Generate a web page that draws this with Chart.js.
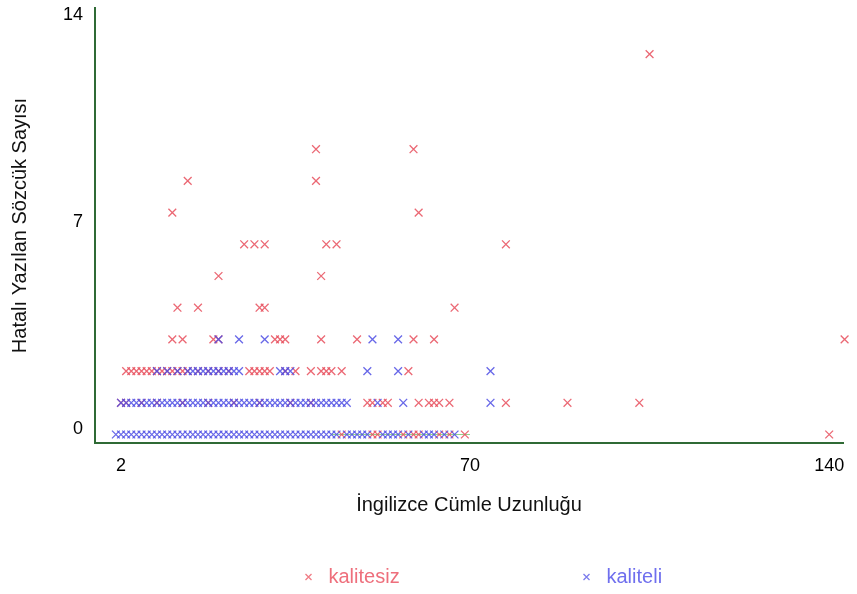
<!DOCTYPE html>
<html>
<head>
<meta charset="utf-8">
<script src="https://cdn.jsdelivr.net/npm/chart.js@4.4.1/dist/chart.umd.min.js"></script>
<style>
html,body{margin:0;padding:0;background:#ffffff;}
#wrap{width:857px;height:594px;}
</style>
</head>
<body>
<div id="wrap"><canvas id="c" width="857" height="594"></canvas></div>
<script>
// ---- data ----
const seriesNames = ['kalitesiz', 'kaliteli'];
const xTickValues = [2, 70, 140];
const yTickValues = [0, 7, 14];
const errorCounts = [0, 1, 2, 3, 4, 5, 6, 7, 8, 9, 10, 11, 12, 13, 14];

// sentence lengths per error count (index = errorCounts)
const kalitesizLengths = [
  [45, 51, 52, 57, 59, 60, 64, 66, 69, 140],
  [2, 3, 6, 9, 14, 19, 24, 29, 35, 39, 50, 51, 53, 54, 60, 62, 63, 64, 66, 77, 89, 103],
  [3, 4, 5, 6, 7, 8, 9, 10, 11, 12, 13, 14, 15, 17, 19, 21, 23, 27, 28, 29, 30, 31, 34, 36, 39, 41, 42, 43, 45, 58],
  [12, 14, 20, 21, 32, 33, 34, 41, 48, 59, 63, 143],
  [13, 17, 29, 30, 67],
  [21, 41],
  [26, 28, 30, 42, 44, 77],
  [12, 60],
  [15, 40],
  [40, 59],
  [],
  [],
  [105],
  [],
  [22]
];
const kaliteliLengths = [
  [1, 2, 3, 4, 5, 6, 7, 8, 9, 10, 11, 12, 13, 14, 15, 16, 17, 18, 19, 20, 21, 22, 23, 24, 25, 26, 27, 28, 29, 30, 31, 32, 33, 34, 35, 36, 37, 38, 39, 40, 41, 42, 43, 44, 46, 47, 48, 49, 50, 53, 54, 55, 56, 58, 61, 62, 63, 65, 67],
  [2, 3, 4, 5, 6, 7, 8, 9, 10, 11, 12, 13, 14, 15, 16, 17, 18, 19, 20, 21, 22, 23, 24, 25, 26, 27, 28, 29, 30, 31, 32, 33, 34, 35, 36, 37, 38, 39, 40, 41, 42, 43, 44, 45, 46, 52, 57, 74],
  [9, 11, 13, 15, 16, 17, 18, 19, 20, 21, 22, 23, 24, 25, 33, 34, 35, 50, 56, 74],
  [21, 25, 30, 51, 56],
  [], [], [], [], [], [], [], [], [], [], []
];
const greenLengths = [43, 70];
const greenCounts = [0, 0];

// ---- styles ----
const FONT = "'Liberation Sans', Arial, sans-serif";
const RED = 'rgba(232,78,92,0.85)';
const BLUE = 'rgba(78,78,228,0.85)';
const AXIS = '#2f6a35';

function toPoints(lengths) {
  const pts = [];
  lengths.forEach((xs, i) => xs.forEach(x => pts.push({ x: x, y: errorCounts[i] })));
  return pts;
}

const legendPlugin = {
  id: 'bottomLegend',
  afterDraw(chart) {
    const ctx = chart.ctx;
    const cy = 577;
    const cx = chart.width / 2;
    const items = [
      { text: seriesNames[0], mark: 'rgba(238,110,120,0.9)', color: '#ee6f7c', x: cx - 120 },
      { text: seriesNames[1], mark: 'rgba(110,110,235,0.9)', color: '#6f6fee', x: cx + 158 }
    ];
    ctx.save();
    items.forEach(it => {
      ctx.strokeStyle = it.mark;
      ctx.lineWidth = 1.3;
      const s = 3;
      ctx.beginPath();
      ctx.moveTo(it.x - s, cy - s); ctx.lineTo(it.x + s, cy + s);
      ctx.moveTo(it.x - s, cy + s); ctx.lineTo(it.x + s, cy - s);
      ctx.stroke();
      ctx.fillStyle = it.color;
      ctx.font = '20px ' + FONT;
      ctx.textBaseline = 'middle';
      ctx.textAlign = 'left';
      ctx.fillText(it.text, it.x + 20, cy);
    });
    ctx.restore();
  }
};

new Chart(document.getElementById('c'), {
  type: 'scatter',
  data: {
    datasets: [
      {
        label: seriesNames[0],
        data: toPoints(kalitesizLengths),
        yAxisID: 'yData',
        pointStyle: 'crossRot',
        pointRadius: 5.5,
        pointBorderWidth: 1.3,
        borderColor: RED,
        backgroundColor: RED,
        clip: false,
        order: 1
      },
      {
        label: seriesNames[1],
        data: toPoints(kaliteliLengths),
        yAxisID: 'yData',
        pointStyle: 'crossRot',
        pointRadius: 5.5,
        pointBorderWidth: 1.3,
        borderColor: BLUE,
        backgroundColor: BLUE,
        clip: false,
        order: 0
      },
      {
        label: 'green',
        data: greenLengths.map((x, i) => ({ x: x, y: greenCounts[i] })),
        yAxisID: 'yData',
        showLine: true,
        borderColor: 'rgba(120,200,110,0.8)',
        borderWidth: 1.2,
        pointRadius: 0,
        clip: false,
        order: 2
      }
    ]
  },
  options: {
    responsive: false,
    animation: false,
    devicePixelRatio: 1,
    layout: { padding: { top: 8, right: 14, left: 0, bottom: 51 } },
    plugins: { legend: { display: false }, tooltip: { enabled: false } },
    scales: {
      x: {
        type: 'linear',
        position: 'bottom',
        min: -3.066,
        max: 142.69,
        afterBuildTicks: a => { a.ticks = xTickValues.map(v => ({ value: v })); },
        afterFit: s => { s.height = 100; s.paddingLeft = 0; s.paddingRight = 0; },
        grid: { display: false, drawTicks: false },
        border: { display: true, color: AXIS, width: 2 },
        ticks: { padding: 12, color: '#000', font: { family: FONT, size: 18 }, maxRotation: 0, autoSkip: false },
        title: { display: true, text: 'İngilizce Cümle Uzunluğu', color: '#111', font: { family: FONT, size: 20 }, padding: { top: 0, bottom: 26 } }
      },
      y: {
        type: 'linear',
        position: 'left',
        min: -0.473,
        max: 14.237,
        afterBuildTicks: a => { a.ticks = yTickValues.map(v => ({ value: v })); },
        afterFit: s => { s.width = 95; s.paddingTop = 0; s.paddingBottom = 0; },
        grid: { display: false, drawTicks: false },
        border: { display: true, color: AXIS, width: 2 },
        ticks: { padding: 12, color: '#000', font: { family: FONT, size: 18 }, autoSkip: false },
        title: { display: true, text: 'Hatalı Yazılan Sözcük Sayısı', color: '#111', font: { family: FONT, size: 20 }, padding: { top: 8, bottom: 0 } }
      },
      yData: {
        type: 'linear',
        display: false,
        min: -0.268,
        max: 13.454
      }
    }
  },
  plugins: [legendPlugin]
});
</script>
</body>
</html>
